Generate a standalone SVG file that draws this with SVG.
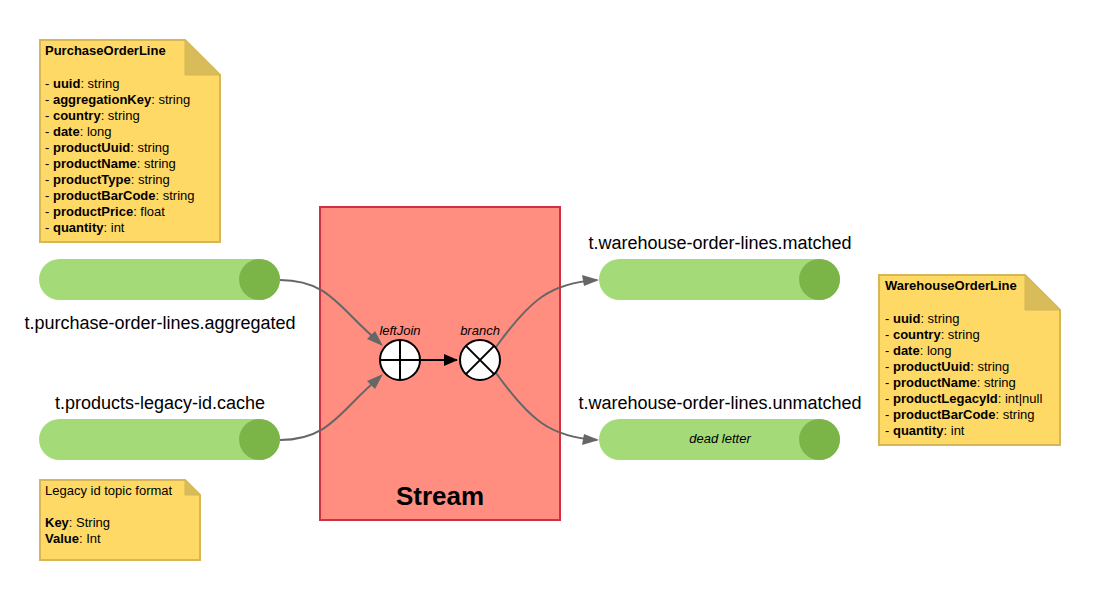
<svg xmlns="http://www.w3.org/2000/svg" width="1100" height="600" viewBox="0 0 1100 600">
<style>
text{font-family:"Liberation Sans",Arial,sans-serif;fill:#000}
.note{fill:#FFD966;stroke:#D6B656;stroke-width:2}
.fold{fill:#D9BC5A;stroke:#D6B656;stroke-width:1}
.nt{font-size:13px}
.b{font-weight:bold}
.cyl{fill:#A5DA78}
.cap{fill:#7CB547}
.lbl{font-size:18px;text-anchor:middle}
.conn{fill:none;stroke:#666;stroke-width:2}
.op{fill:#fff;stroke:#000;stroke-width:2}
.opl{font-size:13px;font-style:italic;text-anchor:middle}
</style>

<g id="stream">
<rect x="320" y="207" width="240" height="313" fill="#FF8E80" stroke="#D0303F" stroke-width="2"/>
<text x="440" y="505" font-size="26" font-weight="bold" text-anchor="middle">Stream</text>
</g>

<g id="connectors">
<path class="conn" d="M280,280 C330,280 340,310 380,343"/>
<path class="conn" d="M280,440 C330,440 340,410 380,377"/>
<path class="conn" d="M496,347 C530,300 550,283 597,280"/>
<path class="conn" d="M496,373 C530,420 550,437 597,440"/>
<path d="M420,360 L457,360" stroke="#000" stroke-width="2" fill="none"/>
<path d="M458,360 L444,354 L444,366 Z" fill="#000"/>
<path d="M383,346 L367,339 L375,331 Z" fill="#666"/>
<path d="M383,374 L375,389 L367,381 Z" fill="#666"/>
<path d="M599,280 L584,286 L582,275 Z" fill="#666"/>
<path d="M599,440 L582,445 L584,434 Z" fill="#666"/>
</g>

<g id="leftJoin">
<circle class="op" cx="400" cy="360" r="20"/>
<path d="M380,360 H420 M400,340 V380" stroke="#000" stroke-width="2"/>
<text class="opl" x="400" y="335">leftJoin</text>
</g>

<g id="branch">
<circle class="op" cx="480" cy="360" r="20"/>
<path d="M465.9,345.9 L494.1,374.1 M494.1,345.9 L465.9,374.1" stroke="#000" stroke-width="2"/>
<text class="opl" x="480" y="335">branch</text>
</g>

<g id="topic-purchase">
<rect class="cyl" x="39" y="259" width="241" height="41" rx="20.5"/>
<circle class="cap" cx="259.5" cy="279.5" r="20.5"/>
<text class="lbl" x="160" y="329">t.purchase-order-lines.aggregated</text>
</g>

<g id="topic-legacy">
<rect class="cyl" x="39" y="419" width="241" height="41" rx="20.5"/>
<circle class="cap" cx="259.5" cy="439.5" r="20.5"/>
<text class="lbl" x="160" y="409">t.products-legacy-id.cache</text>
</g>

<g id="topic-matched">
<rect class="cyl" x="599" y="259" width="241" height="41" rx="20.5"/>
<circle class="cap" cx="819.5" cy="279.5" r="20.5"/>
<text class="lbl" x="720" y="249">t.warehouse-order-lines.matched</text>
</g>

<g id="topic-unmatched">
<rect class="cyl" x="599" y="419" width="241" height="41" rx="20.5"/>
<circle class="cap" cx="819.5" cy="439.5" r="20.5"/>
<text class="lbl" x="720" y="409">t.warehouse-order-lines.unmatched</text>
<text x="720" y="443" font-size="13" font-style="italic" text-anchor="middle">dead letter</text>
</g>

<g id="note-purchase">
<path class="note" d="M40,40 H185 L220,75 V242 H40 Z"/>
<path class="fold" d="M185,40 V75 H220 Z"/>
<text class="nt" x="45" y="55"><tspan class="b">PurchaseOrderLine</tspan></text>
<text class="nt" x="45" y="88">- <tspan class="b">uuid</tspan>: string</text>
<text class="nt" x="45" y="104">- <tspan class="b">aggregationKey</tspan>: string</text>
<text class="nt" x="45" y="120">- <tspan class="b">country</tspan>: string</text>
<text class="nt" x="45" y="136">- <tspan class="b">date</tspan>: long</text>
<text class="nt" x="45" y="152">- <tspan class="b">productUuid</tspan>: string</text>
<text class="nt" x="45" y="168">- <tspan class="b">productName</tspan>: string</text>
<text class="nt" x="45" y="184">- <tspan class="b">productType</tspan>: string</text>
<text class="nt" x="45" y="200">- <tspan class="b">productBarCode</tspan>: string</text>
<text class="nt" x="45" y="216">- <tspan class="b">productPrice</tspan>: float</text>
<text class="nt" x="45" y="232">- <tspan class="b">quantity</tspan>: int</text>
</g>

<g id="note-warehouse">
<path class="note" d="M879,275 H1025 L1060,310 V445 H879 Z"/>
<path class="fold" d="M1025,275 V310 H1060 Z"/>
<text class="nt" x="885" y="290"><tspan class="b">WarehouseOrderLine</tspan></text>
<text class="nt" x="885" y="323">- <tspan class="b">uuid</tspan>: string</text>
<text class="nt" x="885" y="339">- <tspan class="b">country</tspan>: string</text>
<text class="nt" x="885" y="355">- <tspan class="b">date</tspan>: long</text>
<text class="nt" x="885" y="371">- <tspan class="b">productUuid</tspan>: string</text>
<text class="nt" x="885" y="387">- <tspan class="b">productName</tspan>: string</text>
<text class="nt" x="885" y="403">- <tspan class="b">productLegacyId</tspan>: int|null</text>
<text class="nt" x="885" y="419">- <tspan class="b">productBarCode</tspan>: string</text>
<text class="nt" x="885" y="435">- <tspan class="b">quantity</tspan>: int</text>
</g>

<g id="note-legacy">
<path class="note" d="M40,480 H185 L200,495 V560 H40 Z"/>
<path class="fold" d="M185,480 V495 H200 Z"/>
<text class="nt" x="45" y="495">Legacy id topic format</text>
<text class="nt" x="45" y="527"><tspan class="b">Key</tspan>: String</text>
<text class="nt" x="45" y="543"><tspan class="b">Value</tspan>: Int</text>
</g>
</svg>
